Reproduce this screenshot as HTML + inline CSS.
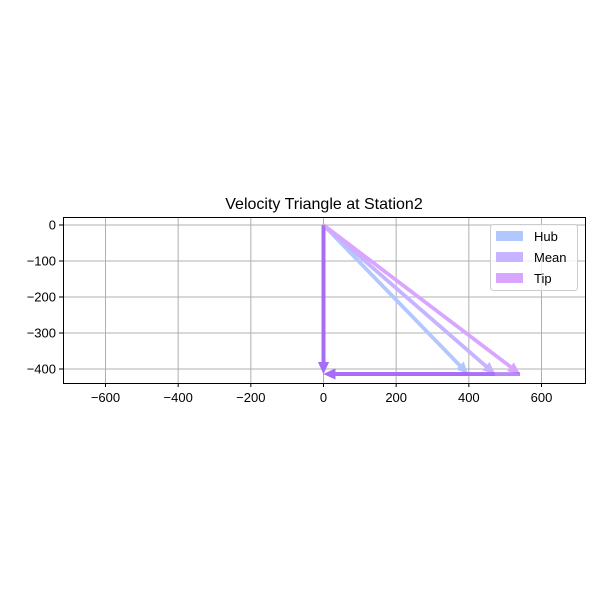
<!DOCTYPE html>
<html><head><meta charset="utf-8"><style>
body{margin:0;background:#fff;font-family:"Liberation Sans","DejaVu Sans",sans-serif;}
</style></head><body>
<svg id="chart" width="600" height="600" viewBox="0 0 600 600" xmlns="http://www.w3.org/2000/svg">
<rect width="600" height="600" fill="#fff"/>
<g id="grid"></g>
<g id="marks"></g>
<rect x="63.5" y="217.5" width="522" height="166" fill="none" stroke="#000" stroke-width="1"/>
<g id="ticks" font-size="13" fill="#000"></g>
<text x="324" y="209" text-anchor="middle" font-size="16">Velocity Triangle at Station2</text>
<g>
<rect x="490.5" y="224.5" width="87" height="66" rx="3" fill="#fff" fill-opacity="0.8" stroke="#ccc"/>
<g><rect x="496" y="231" width="27" height="10" fill="#b3c7ff"/><text x="534" y="241" font-size="13">Hub</text></g>
<g><rect x="496" y="252" width="27" height="10" fill="#c7b3ff"/><text x="534" y="262" font-size="13">Mean</text></g>
<g><rect x="496" y="273" width="27" height="10" fill="#d9a6ff"/><text x="534" y="283" font-size="13">Tip</text></g>
</g>
</svg>
<script>
const xTicks=[-600,-400,-200,0,200,400,600];
const yTicks=[0,-100,-200,-300,-400];
const series=["Hub","Mean","Tip"];
const wheelSpeed=[398,472,541];
const axialVel=[-414,-414,-414];
const colors=["#b3c7ff","#c7b3ff","#d9a6ff"];
const X=v=>323.5+v*0.36333;
const Y=v=>225-v*0.36;
const NS="http://www.w3.org/2000/svg";
const grid=document.getElementById('grid'),ticks=document.getElementById('ticks'),marks=document.getElementById('marks');
function mk(t,a,p){const e=document.createElementNS(NS,t);for(const k in a)e.setAttribute(k,a[k]);p.appendChild(e);return e;}
xTicks.forEach(v=>{const x=X(v);
const g=mk('line',{x1:x,x2:x,y1:217,y2:383,stroke:'#b0b0b0','stroke-width':1},grid);


mk('line',{x1:x,x2:x,y1:383,y2:387,stroke:'#000'},ticks);
const t=mk('text',{x:x,y:402,'text-anchor':'middle'},ticks);t.textContent=v<0?'\u2212'+(-v):v;

});
yTicks.forEach(v=>{const y=Y(v);
const g=mk('line',{x1:63,x2:585,y1:y,y2:y,stroke:'#b0b0b0','stroke-width':1},grid);


mk('line',{x1:59,x2:63,y1:y,y2:y,stroke:'#000'},ticks);
const t=mk('text',{x:56,y:y+4.5,'text-anchor':'end'},ticks);t.textContent=v<0?'\u2212'+(-v):v;

});
function arrow(x0,y0,x1,y1,col,name,op){
const dx=x1-x0,dy=y1-y0,L=Math.hypot(dx,dy),ux=dx/L,uy=dy/L,nx=-uy,ny=ux;
const hl=12,hw=5.5,sw=1.9;const bx=x1-ux*hl,by=y1-uy*hl;
const pts=[[x0+nx*sw,y0+ny*sw],[bx+nx*sw,by+ny*sw],[bx+nx*hw,by+ny*hw],[x1,y1],[bx-nx*hw,by-ny*hw],[bx-nx*sw,by-ny*sw],[x0-nx*sw,y0-ny*sw]];
const p=mk('polygon',{points:pts.map(q=>q.join(',')).join(' '),fill:col,'fill-opacity':op},marks);

}
series.forEach((s,i)=>{
const c=colors[i],n=s.toLowerCase();
arrow(X(0),Y(0),X(wheelSpeed[i]),Y(axialVel[i]),c,'absolute-velocity-'+n,1);
arrow(X(0),Y(0),X(0),Y(axialVel[i]),'#a66cf7','axial-velocity-'+n,0.8);
arrow(X(wheelSpeed[i]),Y(axialVel[i]),X(0),Y(axialVel[i]),'#a66cf7','blade-speed-'+n,0.8);
});
</script>
</body></html>
